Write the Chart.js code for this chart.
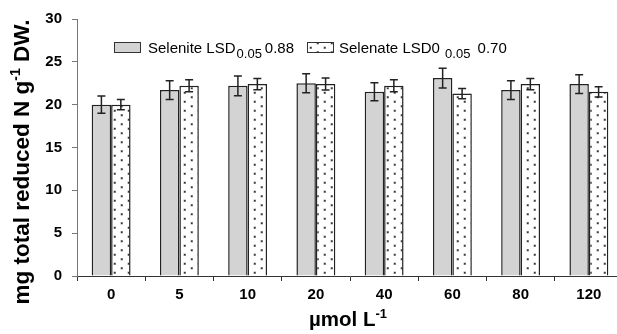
<!DOCTYPE html>
<html><head><meta charset="utf-8">
<script src="https://cdn.jsdelivr.net/npm/chart.js@4.4.0/dist/chart.umd.min.js"></script>
<style>html,body{margin:0;padding:0;overflow:hidden;background:#fff;width:617px;height:334px}canvas{display:block}</style>
</head><body>
<canvas id="c" width="640" height="334"></canvas>
<script>
const categories = ['0','5','10','20','40','60','80','120'];
const seleniteValues = [20.0,21.7,22.2,22.5,21.5,23.1,21.7,22.4];
const seleniteErrors = [1.0,1.1,1.15,1.1,1.05,1.15,1.1,1.1];
const selenateValues = [20.0,22.2,22.4,22.4,22.2,21.3,22.4,21.5];
const selenateErrors = [0.6,0.7,0.65,0.7,0.7,0.6,0.65,0.6];
const yTicks = [0,5,10,15,20,25,30];
const seriesNames = ['Selenite','Selenate'];
const legendParts = [['Selenite LSD','0.05','0.88'],['Selenate LSD0 ','0.05',' 0.70']];
const yTitleParts = ['mg total reduced N g','-1',' DW.'];
const xTitleParts = ['µmol L','-1'];

const FONT = '"Liberation Sans", Arial, Helvetica, sans-serif';
const canvas = document.getElementById('c');
const mainCtx = canvas.getContext('2d');

function dotPattern(){
  const p = document.createElement('canvas'); p.width = 14; p.height = 9;
  const g = p.getContext('2d');
  g.fillStyle = '#fff'; g.fillRect(0,0,14,9);
  g.fillStyle = '#aaa';
  g.fillRect(1.5,1.5,2.5,2.5); g.fillRect(8.5,6,2.5,2.5);
  g.fillStyle = '#333';
  g.fillRect(2,2,1.5,1.5); g.fillRect(9,6.5,1.5,1.5);
  return mainCtx.createPattern(p,'repeat');
}
const pattern = dotPattern();
const errorSets = [seleniteErrors, selenateErrors];

const errorBarPlugin = {
  id:'errorBars',
  afterDatasetsDraw(chart){
    const ctx = chart.ctx, ys = chart.scales.y;
    ctx.save();
    ctx.strokeStyle = '#222'; ctx.lineWidth = 1.5;
    chart.data.datasets.forEach((ds,i)=>{
      const meta = chart.getDatasetMeta(i);
      meta.data.forEach((el,j)=>{
        const v = ds.data[j], e = errorSets[i][j];
        const x = el.x, t = ys.getPixelForValue(v+e), b = ys.getPixelForValue(v-e);
        ctx.beginPath();
        ctx.moveTo(x,t); ctx.lineTo(x,b);
        ctx.moveTo(x-4,t); ctx.lineTo(x+4,t);
        ctx.moveTo(x-4,b); ctx.lineTo(x+4,b);
        ctx.stroke();
      });
    });
    ctx.restore();
  }
};

function drawParts(ctx, parts, size, subSize, subShift, weight, gapBefore, gapAfter){
  let x = 0;
  ctx.font = weight + ' ' + size + 'px ' + FONT;
  ctx.fillText(parts[0], x, 0); x += ctx.measureText(parts[0]).width + gapBefore;
  ctx.font = weight + ' ' + subSize + 'px ' + FONT;
  ctx.fillText(parts[1], x, subShift); x += ctx.measureText(parts[1]).width + gapAfter;
  if (parts[2] !== undefined){
    ctx.font = weight + ' ' + size + 'px ' + FONT;
    ctx.fillText(parts[2], x, 0); x += ctx.measureText(parts[2]).width;
  }
  return x;
}
function partsWidth(ctx, parts, size, subSize, weight){
  let w = 0;
  ctx.font = weight + ' ' + size + 'px ' + FONT; w += ctx.measureText(parts[0]).width;
  if (parts[2] !== undefined) w += ctx.measureText(parts[2]).width;
  ctx.font = weight + ' ' + subSize + 'px ' + FONT; w += ctx.measureText(parts[1]).width;
  return w;
}

const annotationPlugin = {
  id:'annotations',
  afterDraw(chart){
    const ctx = chart.ctx;
    ctx.save();
    ctx.fillStyle = '#000'; ctx.textBaseline = 'alphabetic'; ctx.textAlign = 'left';
    // legend
    const boxes = [{x:114,fill:'#d3d3d3',tx:148},{x:307,fill:pattern,tx:339}];
    boxes.forEach((b,i)=>{
      ctx.fillStyle = b.fill; ctx.fillRect(b.x,42,26,10);
      ctx.strokeStyle = '#333'; ctx.lineWidth = 1; ctx.strokeRect(b.x+0.5,42.5,26,10);
      ctx.fillStyle = '#000';
      ctx.save(); ctx.translate(b.tx,53);
      drawParts(ctx, legendParts[i], 15, 13, 5, 'normal', 1, 3);
      ctx.restore();
    });
    // y title
    ctx.save();
    const yw = partsWidth(ctx, yTitleParts, 22.5, 14, 'bold');
    ctx.translate(29, 162 + yw/2); ctx.rotate(-Math.PI/2);
    drawParts(ctx, yTitleParts, 22.5, 14, -9, 'bold', 0, 0);
    ctx.restore();
    // x title
    ctx.save();
    const xw = partsWidth(ctx, xTitleParts, 20.5, 13, 'bold');
    ctx.translate(348 - xw/2, 326);
    drawParts(ctx, xTitleParts, 20.5, 13, -8, 'bold', 0, 0);
    ctx.restore();
    ctx.restore();
  }
};

new Chart(canvas, {
  type:'bar',
  data:{
    labels: categories,
    datasets:[
      {label: seriesNames[0], data: seleniteValues, backgroundColor:'#d3d3d3', borderColor:'#222', borderWidth:1.5, categoryPercentage:0.57, barPercentage:1.0},
      {label: seriesNames[1], data: selenateValues, backgroundColor: pattern, borderColor:'#222', borderWidth:1.5, categoryPercentage:0.57, barPercentage:1.0}
    ]
  },
  options:{
    responsive:false, animation:false, devicePixelRatio:1,
    layout:{padding:{top:19,right:17,left:0,bottom:0}},
    plugins:{legend:{display:false}, tooltip:{enabled:false}},
    scales:{
      x:{
        grid:{display:true, drawOnChartArea:false, drawTicks:true, tickLength:5, color:'#333', lineWidth:1, offset:true},
        border:{display:true, color:'#333', width:1},
        ticks:{font:{family:FONT, size:15, weight:'bold'}, color:'#000', padding:5},
        afterFit:(s)=>{ s.height = 58; }
      },
      y:{
        min:0, max:30,
        afterBuildTicks:(s)=>{ s.ticks = yTicks.map(v=>({value:v})); },
        grid:{drawOnChartArea:false, drawTicks:true, tickLength:5, color:'#777'},
        border:{display:true, color:'#777', width:1},
        ticks:{font:{family:FONT, size:15, weight:'bold'}, color:'#000', padding:10},
        afterFit:(s)=>{ s.width = 77; }
      }
    }
  },
  plugins:[errorBarPlugin, annotationPlugin]
});
</script>
</body></html>
